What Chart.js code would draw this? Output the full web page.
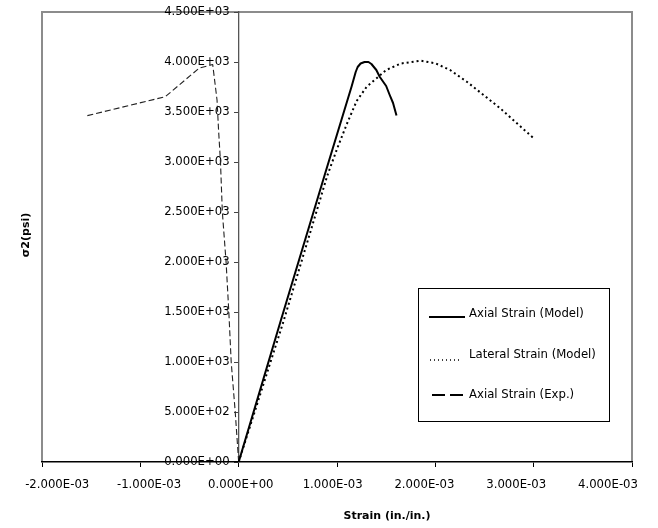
<!DOCTYPE html>
<html><head><meta charset="utf-8">
<script src="https://cdn.jsdelivr.net/npm/chart.js@4/dist/chart.umd.min.js"></script>
<style>html,body{margin:0;padding:0;background:#fff}#wrap{width:658px;height:528px;position:relative}</style>
</head><body><div id="wrap"><canvas id="c" width="658" height="528"></canvas></div>
<script>
// ---- data (strain in in./in., stress in psi) ----
const seriesLabels = ['Axial Strain (Model)', 'Lateral Strain (Model)', 'Axial Strain (Exp.)'];
const axialModelStrain = [0, 0.00043, 0.00089, 0.00115, 0.00119, 0.00121, 0.00124, 0.00128, 0.00132, 0.00135, 0.00140, 0.001434, 0.00150, 0.001536, 0.00157, 0.001605];
const axialModelStress = [0, 1420, 2920, 3760, 3900, 3950, 3985, 4000, 4000, 3980, 3920, 3853, 3760, 3670, 3590, 3465];
const lateralModelStrain = [0, 0.00046, 0.00090, 0.00100, 0.00110, 0.00120, 0.00130, 0.00140, 0.00150, 0.00165, 0.00185, 0.00200, 0.00215, 0.00232, 0.00249, 0.00266, 0.00283, 0.00300];
const lateralModelStress = [0, 1420, 2860, 3130, 3380, 3610, 3750, 3835, 3920, 3985, 4013, 3987, 3920, 3803, 3670, 3537, 3387, 3237];
const axialExpStrain = [0, -0.000035, -0.000076, -0.000100, -0.000128, -0.000166, -0.000185, -0.000205, -0.000220, -0.000264, -0.000400, -0.000746, -0.001545];
const axialExpStress = [0, 500, 1000, 1500, 2000, 2500, 3000, 3330, 3620, 3975, 3940, 3653, 3462];
const xTickValues = [-0.002, -0.001, 0, 0.001, 0.002, 0.003, 0.004];
const yTickValues = [0, 500, 1000, 1500, 2000, 2500, 3000, 3500, 4000, 4500];
const xTitle = 'Strain (in./in.)';
const yTitle = 'σ2(psi)';

function pairs(xs, ys) { return xs.map((x, i) => ({ x: x, y: ys[i] })); }
function sci(v) {
  if (Math.abs(v) < 1e-12) return '0.000E+00';
  const s = Number(v).toExponential(3);
  const parts = s.split('e');
  const e = parseInt(parts[1], 10);
  return parts[0] + 'E' + (e < 0 ? '-' : '+') + String(Math.abs(e)).padStart(2, '0');
}
const setTicks = vals => s => { s.ticks = vals.map(v => ({ value: v })); };

const FONT = 'DejaVu Sans';
Chart.defaults.font.family = FONT;
Chart.defaults.font.size = 11.7;
Chart.defaults.color = '#000';

const styles = [
  { color: '#000', width: 2, dash: [] },
  { color: '#000', width: 2, dash: [2, 3] },
  { color: '#222', width: 1.1, dash: [6, 3] }
];

const framePlugin = {
  id: 'frame',
  beforeDraw(chart) {
    const a = chart.chartArea, ctx = chart.ctx;
    ctx.save();
    ctx.strokeStyle = '#8c8c8c';
    ctx.lineWidth = 2;
    ctx.beginPath();
    ctx.moveTo(a.left, a.bottom);
    ctx.lineTo(a.left, a.top);
    ctx.lineTo(a.right, a.top);
    ctx.lineTo(a.right, a.bottom);
    ctx.stroke();
    ctx.restore();
    // y labels sit a little left of the centred y axis
    const ys = chart.scales.y;
    if (ys) {
      const items = ys.getLabelItems(chart.chartArea);
      if (items && !items._shifted) {
        items.forEach(it => {
          if (it.options && it.options.translation) it.options.translation[0] -= 9;
        });
        items._shifted = true;
      }
    }
  },
  afterDraw(chart) {
    const ctx = chart.ctx;
    ctx.save();
    ctx.fillStyle = '#000';
    ctx.font = 'bold 11px ' + FONT;
    ctx.textAlign = 'center';
    ctx.textBaseline = 'middle';
    ctx.fillText(xTitle, 387, 516);
    ctx.translate(26, 235);
    ctx.rotate(-Math.PI / 2);
    ctx.fillText(yTitle, 0, 0);
    ctx.restore();
    // legend
    ctx.save();
    ctx.strokeStyle = '#000';
    ctx.lineWidth = 1;
    ctx.strokeRect(418.5, 288.5, 191, 133);
    const rows = [317, 358, 398];
    const lineY = [317, 360, 395];
    const sample = [
      { x0: 429, x1: 465, w: 2, dash: [] },
      { x0: 430, x1: 459, w: 1.3, dash: [1, 3] },
      { x0: 432, x1: 464, w: 2, dash: [13, 5] }
    ];
    chart.data.datasets.forEach((ds, i) => {
      const s = sample[i];
      ctx.beginPath();
      ctx.setLineDash(s.dash);
      ctx.lineWidth = s.w;
      ctx.strokeStyle = '#000';
      ctx.moveTo(s.x0, lineY[i]);
      ctx.lineTo(s.x1, lineY[i]);
      ctx.stroke();
      ctx.setLineDash([]);
      ctx.fillStyle = '#000';
      ctx.font = '11.7px ' + FONT;
      ctx.textAlign = 'left';
      ctx.textBaseline = 'alphabetic';
      ctx.fillText(ds.label, 469, rows[i]);
    });
    ctx.restore();
  }
};

const datasets = [
  pairs(axialModelStrain, axialModelStress),
  pairs(lateralModelStrain, lateralModelStress),
  pairs(axialExpStrain, axialExpStress)
].map((d, i) => ({
  label: seriesLabels[i],
  data: d,
  showLine: true,
  fill: false,
  borderColor: styles[i].color,
  borderWidth: styles[i].width,
  borderDash: styles[i].dash,
  borderCapStyle: 'butt',
  borderJoinStyle: 'round',
  pointRadius: 0,
  pointHoverRadius: 0,
  tension: 0
}));

new Chart(document.getElementById('c'), {
  type: 'scatter',
  data: { datasets: datasets },
  options: {
    responsive: false,
    animation: false,
    devicePixelRatio: 1,
    layout: { padding: { left: 42, right: 26, top: 12, bottom: 0 } },
    plugins: { legend: { display: false }, tooltip: { enabled: false } },
    scales: {
      x: {
        type: 'linear',
        position: 'bottom',
        min: -0.002, max: 0.004,
        afterBuildTicks: setTicks(xTickValues),
        afterFit(s) { s.height = 66; s.paddingLeft = 0; s.paddingRight = 0; },
        ticks: { display: false },
        grid: { display: true, drawOnChartArea: false, drawTicks: true, tickLength: 5, color: '#000', lineWidth: 1 },
        border: { display: true, color: '#000', width: 1.6 }
      },
      // tick-label row of the strain axis, spread as in the original figure
      xl: {
        axis: 'x',
        type: 'linear',
        position: { y: 0 },
        min: -0.0021656, max: 0.0042614,
        afterBuildTicks: setTicks(xTickValues),
        afterFit(s) { s.paddingLeft = 0; s.paddingRight = 0; },
        ticks: { callback: v => sci(v), padding: 16, maxRotation: 0, autoSkip: false },
        grid: { display: false, drawTicks: false },
        border: { display: false }
      },
      y: {
        type: 'linear',
        position: { x: 0 },
        min: 0, max: 4500,
        afterBuildTicks: setTicks(yTickValues),
        afterFit(s) { s.paddingTop = 0; s.paddingBottom = 0; },
        ticks: { callback: v => sci(v), autoSkip: false },
        grid: { display: true, drawOnChartArea: false, drawTicks: true, tickLength: 4, color: '#444', lineWidth: 1 },
        border: { display: true, color: '#555', width: 1.3 }
      }
    }
  },
  plugins: [framePlugin]
});
</script>
</body></html>
